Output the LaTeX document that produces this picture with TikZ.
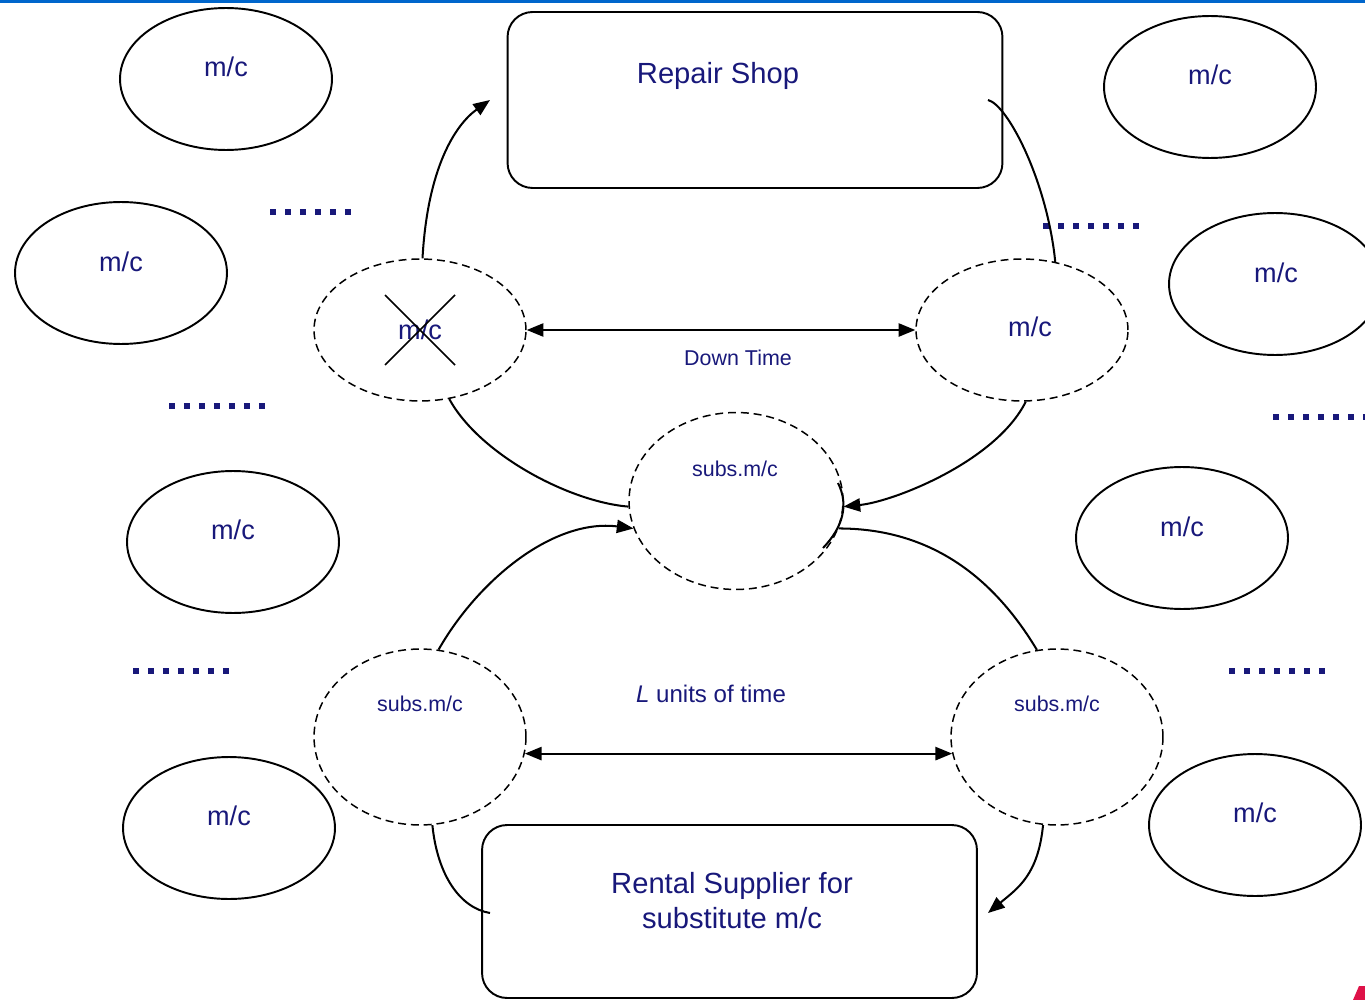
\documentclass[tikz,border=0pt]{standalone}
\usepackage{fontspec}
\setmainfont{Liberation Sans}
\usetikzlibrary{shapes.geometric,arrows.meta}
\definecolor{mcnavy}{RGB}{24,24,122}
\definecolor{barblue}{RGB}{0,102,204}
\definecolor{logored}{RGB}{222,18,72}

\begin{document}
\begin{tikzpicture}[x=0.02cm,y=-0.02cm,
        machine/.style={draw, ellipse, line width=1.1pt, minimum width=4.24cm, minimum height=2.84cm, inner sep=0pt},
        waiting/.style={draw, ellipse, dashed, line width=0.85pt, dash pattern=on 4.5pt off 2.8pt, inner sep=0pt},
        shop/.style={draw, rectangle, rounded corners=0.5cm, line width=1.1pt, minimum width=9.9cm, inner sep=0pt},
        mctxt/.style={text=mcnavy, font=\fontsize{15.4}{18}\selectfont, inner sep=0pt},
        smalltxt/.style={text=mcnavy, font=\fontsize{12.2}{14}\selectfont, inner sep=0pt},
        bigtxt/.style={text=mcnavy, font=\fontsize{16.6}{19.9}\selectfont, inner sep=0pt},
        link/.style={line width=1.15pt},
        tip/.style={-{Triangle[length=9.5pt,width=7.5pt]}},
        bothtips/.style={{Triangle[length=9.5pt,width=7.5pt]}-{Triangle[length=9.5pt,width=7.5pt]}},
        dotrow/.style={mcnavy, line width=0.12cm, dash pattern=on 0.12cm off 0.18cm}]
        \useasboundingbox (0,0) rectangle (1365,1000);
        \fill[barblue] (0,0) rectangle (1365,3.5);
        \fill[logored] (1353,1000) -- (1359,986) -- (1365,986) -- (1365,1000) -- cycle;

        % shops
        \node[shop, minimum height=3.52cm] (repair) at (755,100) {};
        \node[bigtxt] (repairlbl) at (718,76) {Repair Shop};
        \node[shop, minimum height=3.46cm] (rental) at (729.5,911.5) {};
        \node[bigtxt, align=center] (rentallbl) at (732,901) {Rental Supplier for\\substitute m/c};
        \coordinate (repairin) at (490,100);
        \coordinate (repairout) at (988,100);
        \coordinate (rentalin) at (490,913);
        \coordinate (rentalout) at (988,913);

        % working machines
        \node[machine] (m1) at (226,79) {};
        \node[mctxt] (m1lbl) at (226,67) {m/c};
        \node[machine] (m2) at (121,273) {};
        \node[mctxt] (m2lbl) at (121,262) {m/c};
        \node[machine] (m3) at (1210,87) {};
        \node[mctxt] (m3lbl) at (1210,75) {m/c};
        \node[machine] (m4) at (1275,284) {};
        \node[mctxt] (m4lbl) at (1276,273) {m/c};
        \node[machine] (m5) at (233,542) {};
        \node[mctxt] (m5lbl) at (233,530) {m/c};
        \node[machine] (m6) at (1182,538) {};
        \node[mctxt] (m6lbl) at (1182,527) {m/c};
        \node[machine] (m7) at (229,828) {};
        \node[mctxt] (m7lbl) at (229,816) {m/c};
        \node[machine] (m8) at (1255,825) {};
        \node[mctxt] (m8lbl) at (1255,813) {m/c};

        \draw[dotrow] (270,212) -- ++(81,0);
        \draw[dotrow] (1043,226) -- ++(96,0);
        \draw[dotrow] (169,406) -- ++(96,0);
        \draw[dotrow] (1273,417) -- ++(96,0);
        \draw[dotrow] (133,671) -- ++(96,0);
        \draw[dotrow] (1229,671) -- ++(96,0);

        % failed, repaired and substitute machines
        \node[waiting, minimum width=4.24cm, minimum height=2.84cm] (failed) at (420,330) {};
        \node[mctxt] (failedlbl) at (420,330) {m/c};
        \draw[line width=0.9pt] (385,295) -- (455,365);
        \draw[line width=0.9pt] (385,365) -- (455,295);
        \node[waiting, minimum width=4.24cm, minimum height=2.84cm] (fixed) at (1022,330) {};
        \node[mctxt] (fixedlbl) at (1030,327) {m/c};
        \node[waiting, minimum width=4.28cm, minimum height=3.54cm] (subsmid) at (736,501) {};
        \node[smalltxt] (subsmidlbl) at (735,469) {subs.m/c};
        \node[waiting, minimum width=4.24cm, minimum height=3.52cm] (subsin) at (420,737) {};
        \node[smalltxt] (subsinlbl) at (420,704) {subs.m/c};
        \node[waiting, minimum width=4.24cm, minimum height=3.52cm] (subsout) at (1057,737) {};
        \node[smalltxt] (subsoutlbl) at (1057,704) {subs.m/c};

        % flows
        \draw[link, tip] (failed.88) .. controls +(5,-90) and +(-35,25) .. (repairin);
        \draw[link] (repairout) .. controls +(20,5) and +(-8,-80) .. (fixed.64);
        \draw[link, bothtips] (failed.east) -- (fixed.west);
        \node[smalltxt] (downtime) at (738,358) {Down Time};
        \draw[link] (failed.-67) .. controls +(30,55) and +(-60,-5) .. (subsmid.183);
        \draw[link, tip] (fixed.-87) .. controls +(-30,60) and +(50,-5) .. (subsmid.-3);
        \draw[link] (838,483) .. controls (849,505) and (843,527) .. (823,548);
        \draw[link, tip] (subsin.78) .. controls +(40,-70) and +(-80,-10) .. (subsmid.195);
        \draw[link] (subsmid.-15) .. controls +(90,0) and +(-45,-75) .. (subsout.103);
        \draw[link, bothtips] (subsin.-9) -- (subsout.189);
        \node[text=mcnavy, font=\fontsize{13.7}{16}\selectfont, inner sep=0pt] (leadtime) at (711,694) {\textit{L} units of time};
        \draw[link] (subsin.-82) .. controls +(5,50) and +(-30,-5) .. (rentalin);
        \draw[link, tip] (subsout.-99) .. controls +(-5,50) and +(30,-25) .. (rentalout);
    \end{tikzpicture}
\end{document}
